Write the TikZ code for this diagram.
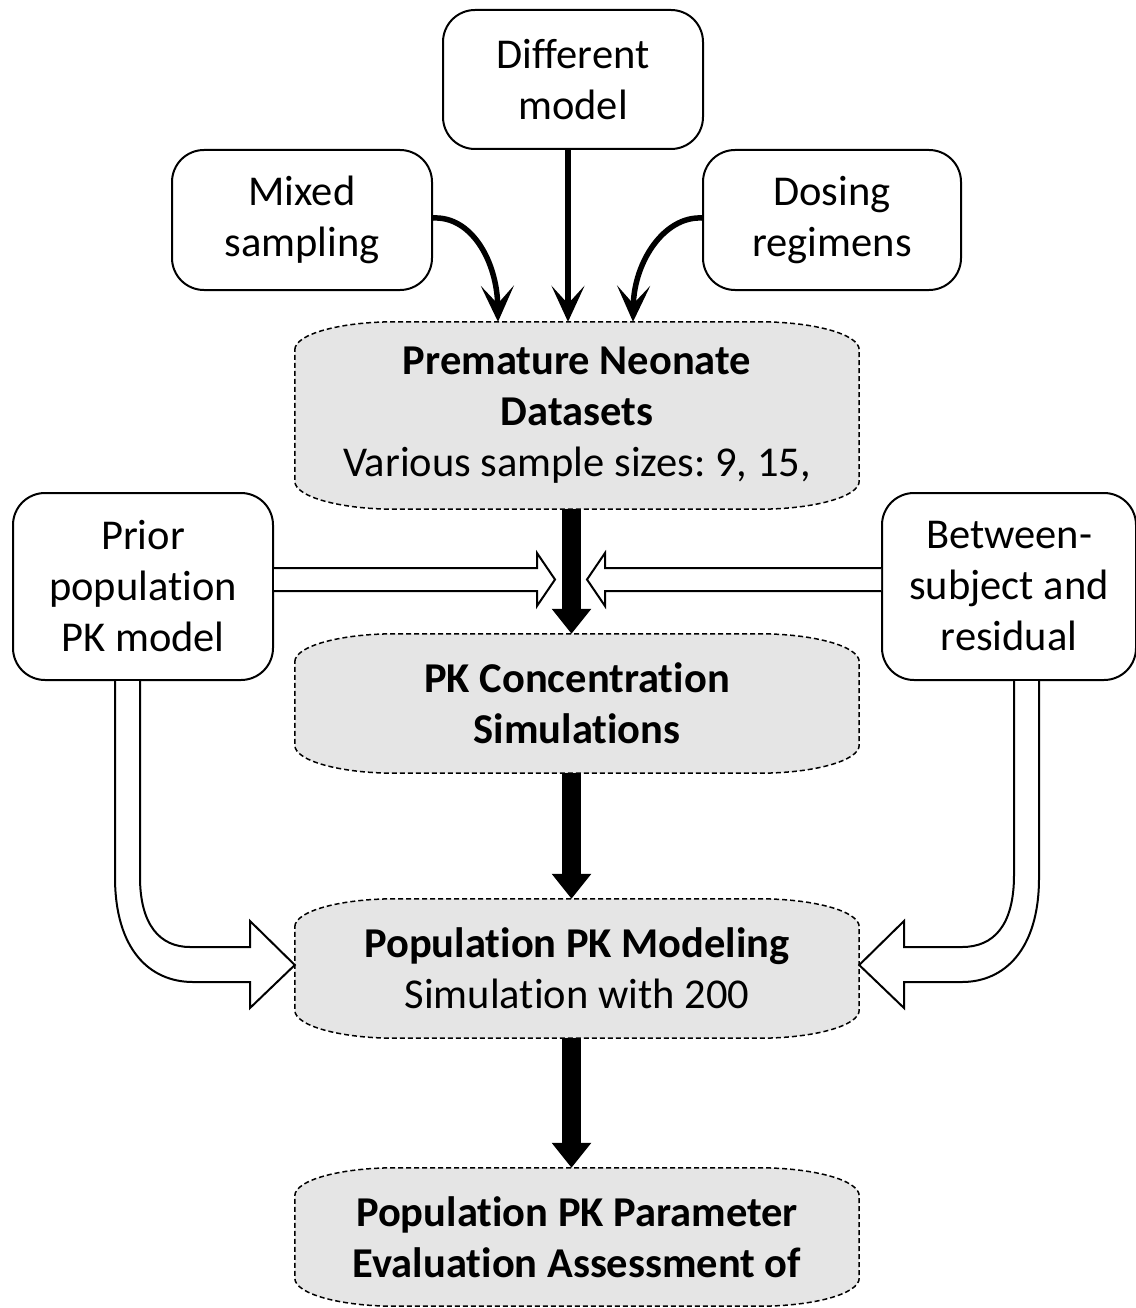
\documentclass[tikz,border=0pt]{standalone}
\usepackage{fontspec}
\setmainfont{Carlito}[Ligatures=NoCommon]
\usetikzlibrary{arrows.meta,calc,backgrounds}
\frenchspacing
\tikzset{
  txt/.style={font=\fontsize{42.5pt}{51pt}\selectfont, align=center, inner sep=0pt},
  wbox/.style={txt, draw, line width=2pt, rounded corners=32pt, fill=white},
  gnode/.style={txt, minimum width=564pt},
  gshape/.style={draw, dash pattern=on 5pt off 3pt, line width=1.5pt, fill=gray!20},
  blk/.style={line width=19pt, -{Triangle[length=25pt,width=38pt]}},
  thinarr/.style={line width=5.5pt, -{Stealth[length=36pt,width=33pt,inset=18pt]}},
  oarrow/.style={draw, line width=2pt, fill=white, line join=miter},
}
\newcommand\pkgray[1]{%
  \begin{scope}[on background layer]
  \draw[gshape]
   ($(#1.north west)+(0,28)$)
   .. controls ($(#1.north west)+(0,12.5)$) and ($(#1.north west)+(45,0)$) .. ($(#1.north west)+(100,0)$)
   -- ($(#1.north east)+(-100,0)$)
   .. controls ($(#1.north east)+(-45,0)$) and ($(#1.north east)+(0,12.5)$) .. ($(#1.north east)+(0,28)$)
   -- ($(#1.south east)+(0,-28)$)
   .. controls ($(#1.south east)+(0,-12.5)$) and ($(#1.south east)+(-45,0)$) .. ($(#1.south east)+(-100,0)$)
   -- ($(#1.south west)+(100,0)$)
   .. controls ($(#1.south west)+(45,0)$) and ($(#1.south west)+(0,-12.5)$) .. ($(#1.south west)+(0,-28)$)
   -- cycle;
  \end{scope}}
\begin{document}
\begin{tikzpicture}[x=1pt,y=-1pt]
\useasboundingbox (0,0) rectangle (1135,1308);

% white boxes
\node[wbox, minimum width=260pt, minimum height=139pt] (diff) at (573,79.5) {Different\\model};
\node[wbox, minimum width=260pt, minimum height=140pt] (mixed) at (302,220) {Mixed\\sampling};
\node[wbox, minimum width=258pt, minimum height=140pt] (dosing) at (832,220) {Dosing\\regimens};
\node[wbox, minimum width=260pt, minimum height=187pt] (prior) at (143,586.5) {Prior\\population\\PK model};
\node[wbox, minimum width=254pt, minimum height=187pt] (between) at (1009,586.5) {Between-\\subject and\\residual};

% gray process boxes
\node[gnode, minimum height=187pt] (premature) at (577,415.5) {\textbf{Premature Neonate}\\\textbf{Datasets}\\Various sample sizes: 9, 15,};
\node[gnode, minimum height=139pt] (pkconc) at (577,703.5) {\textbf{PK Concentration}\\\textbf{Simulations}};
\node[gnode, minimum height=139pt] (popmod) at (577,968.5) {\textbf{Population PK Modeling}\\Simulation with 200};
\node[gnode, minimum height=138pt] (param) at (577,1237) {\textbf{Population PK Parameter}\\\textbf{Evaluation Assessment of}};
\pkgray{premature}
\pkgray{pkconc}
\pkgray{popmod}
\pkgray{param}

% top arrows
\draw[thinarr] ($(diff.south)+(-5,0)$) -- ($(premature.north)+(-9,0)$);
\draw[thinarr] ($(mixed.east)+(0,-2)$) .. controls (472,216) and (497,262) .. ($(premature.north)+(-79,0)$);
\draw[thinarr] ($(dosing.west)+(0,-2)$) .. controls (664,216) and (634,262) .. ($(premature.north)+(56,0)$);

% main black arrows
\draw[blk] ($(premature.south)+(-5.5,0)$) -- ($(pkconc.north)+(-5.5,0)$);
\draw[blk] ($(pkconc.south)+(-5.5,0)$) -- ($(popmod.north)+(-5.5,0)$);
\draw[blk] ($(popmod.south)+(-5.5,0)$) -- ($(param.north)+(-5.5,0)$);

% open horizontal block arrows
\path[oarrow] (prior.east |- 0,568) -- (537,568) -- (537,553) -- (555,579.5) -- (537,606) -- (537,591) -- (prior.east |- 0,591);
\path[oarrow] (between.west |- 0,568) -- (605,568) -- (605,553) -- (587,579.5) -- (605,606) -- (605,591) -- (between.west |- 0,591);

% open bent block arrows
\path[oarrow] (prior.south -| 115,0) -- (115,877) .. controls (115,950) and (150,982) .. (193,982) -- (250,982) -- (250,1008) -- (popmod.west |- 0,965) -- (250,921) -- (250,947) -- (190,947) .. controls (160,947) and (140,925) .. (140,877) -- (prior.south -| 140,0);
\path[oarrow] (between.south -| 1039,0) -- (1039,878) .. controls (1039,950) and (1004,982) .. (962,982) -- (904,982) -- (904,1008) -- (popmod.east |- 0,965) -- (904,921) -- (904,947) -- (962,947) .. controls (994,947) and (1014,925) .. (1014,875) -- (between.south -| 1014,0);
\end{tikzpicture}
\end{document}
